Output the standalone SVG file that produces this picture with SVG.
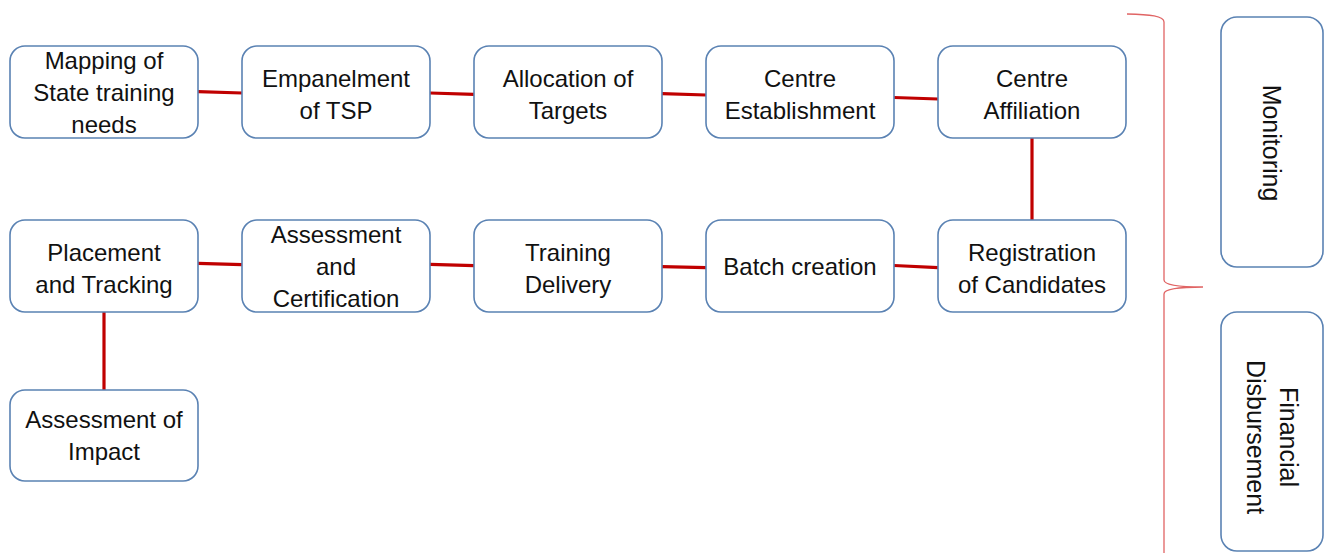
<svg xmlns="http://www.w3.org/2000/svg" width="1325" height="553" viewBox="0 0 1325 553">
  <style>
    .box { fill: #ffffff; stroke: #5a82b3; stroke-width: 1.6; }
    .lbl { font-family: "Liberation Sans", Arial, sans-serif; font-size: 24px; fill: #111111; text-anchor: middle; }
    .side { font-size: 25px; }
    .link { stroke: #c00000; stroke-width: 3.2; fill: none; }
    .brace { stroke: #e06464; stroke-width: 1.3; fill: none; }
  </style>
  <rect width="1325" height="553" fill="#ffffff"/>

  <!-- connectors -->
  <g id="connectors">
    <line class="link" x1="198" y1="91.7" x2="242" y2="93"/>
    <line class="link" x1="430" y1="93" x2="474" y2="94.3"/>
    <line class="link" x1="662" y1="93.7" x2="706" y2="95"/>
    <line class="link" x1="894" y1="97.5" x2="938" y2="99"/>
    <line class="link" x1="1032" y1="138" x2="1032" y2="220"/>
    <line class="link" x1="938" y1="267.7" x2="894" y2="265.5"/>
    <line class="link" x1="706" y1="267.7" x2="662" y2="266.7"/>
    <line class="link" x1="474" y1="265.7" x2="430" y2="264.3"/>
    <line class="link" x1="242" y1="264.7" x2="198" y2="263.3"/>
    <line class="link" x1="104" y1="312" x2="104" y2="390"/>
  </g>

  <!-- row 1 -->
  <g id="mapping">
    <rect class="box" x="10" y="46" width="188" height="92" rx="15"/>
    <text class="lbl" x="104" y="69">Mapping of</text>
    <text class="lbl" x="104" y="101">State training</text>
    <text class="lbl" x="104" y="133">needs</text>
  </g>
  <g id="empanelment">
    <rect class="box" x="242" y="46" width="188" height="92" rx="15"/>
    <text class="lbl" x="336" y="87">Empanelment</text>
    <text class="lbl" x="336" y="119">of TSP</text>
  </g>
  <g id="allocation">
    <rect class="box" x="474" y="46" width="188" height="92" rx="15"/>
    <text class="lbl" x="568" y="87">Allocation of</text>
    <text class="lbl" x="568" y="119">Targets</text>
  </g>
  <g id="establishment">
    <rect class="box" x="706" y="46" width="188" height="92" rx="15"/>
    <text class="lbl" x="800" y="87">Centre</text>
    <text class="lbl" x="800" y="119">Establishment</text>
  </g>
  <g id="affiliation">
    <rect class="box" x="938" y="46" width="188" height="92" rx="15"/>
    <text class="lbl" x="1032" y="87">Centre</text>
    <text class="lbl" x="1032" y="119">Affiliation</text>
  </g>

  <!-- row 2 -->
  <g id="placement">
    <rect class="box" x="10" y="220" width="188" height="92" rx="15"/>
    <text class="lbl" x="104" y="261">Placement</text>
    <text class="lbl" x="104" y="293">and Tracking</text>
  </g>
  <g id="assessment">
    <rect class="box" x="242" y="220" width="188" height="92" rx="15"/>
    <text class="lbl" x="336" y="243">Assessment</text>
    <text class="lbl" x="336" y="275">and</text>
    <text class="lbl" x="336" y="307">Certification</text>
  </g>
  <g id="training">
    <rect class="box" x="474" y="220" width="188" height="92" rx="15"/>
    <text class="lbl" x="568" y="261">Training</text>
    <text class="lbl" x="568" y="293">Delivery</text>
  </g>
  <g id="batch">
    <rect class="box" x="706" y="220" width="188" height="92" rx="15"/>
    <text class="lbl" x="800" y="275">Batch creation</text>
  </g>
  <g id="registration">
    <rect class="box" x="938" y="220" width="188" height="92" rx="15"/>
    <text class="lbl" x="1032" y="261">Registration</text>
    <text class="lbl" x="1032" y="293">of Candidates</text>
  </g>

  <!-- row 3 -->
  <g id="impact">
    <rect class="box" x="10" y="390" width="188" height="91" rx="15"/>
    <text class="lbl" x="104" y="428">Assessment of</text>
    <text class="lbl" x="104" y="460">Impact</text>
  </g>

  <!-- bracket grouping the process -->
  <g id="bracket">
    <path class="brace" d="M1127,14 C1150,14.5 1164,16 1164,22 L1164,280 C1164,285 1180,287 1203,287 C1180,287 1164,289 1164,294 L1164,560"/>
  </g>

  <!-- side panels -->
  <g id="monitoring">
    <rect class="box" x="1221" y="17" width="102" height="250" rx="16"/>
    <text class="lbl side" transform="translate(1263,143) rotate(90)">Monitoring</text>
  </g>
  <g id="financial">
    <rect class="box" x="1221" y="312" width="102" height="239" rx="16"/>
    <text class="lbl side" transform="translate(1280,437) rotate(90)">Financial</text>
    <text class="lbl side" transform="translate(1247,437) rotate(90)">Disbursement</text>
  </g>
</svg>
